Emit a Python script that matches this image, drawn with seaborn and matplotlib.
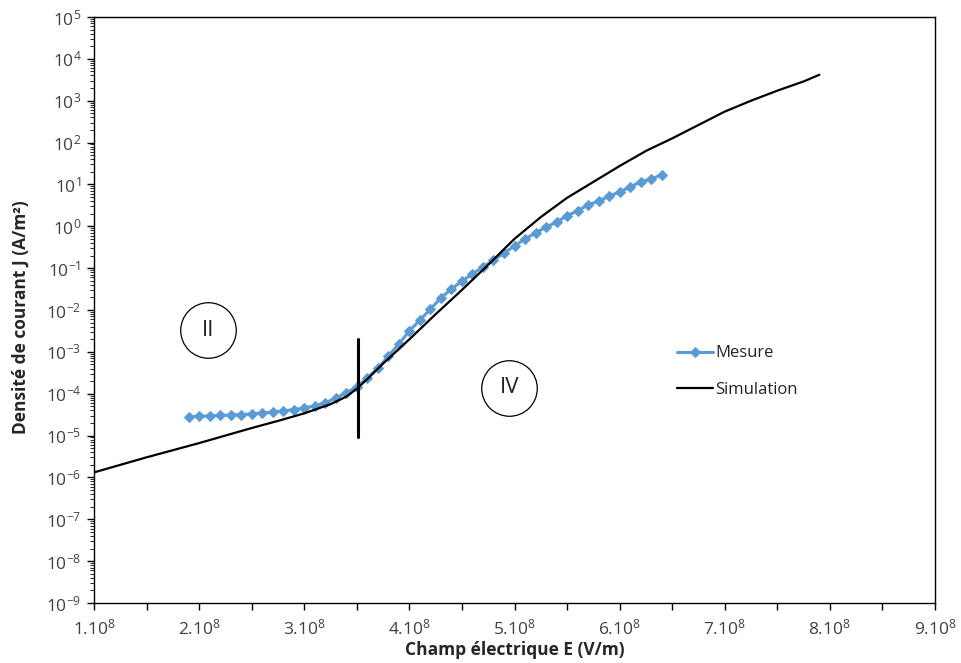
import numpy as np
import pandas as pd
import seaborn as sns
import matplotlib
matplotlib.use("Agg")
import matplotlib.pyplot as plt
from matplotlib.ticker import FixedLocator, LogLocator, NullFormatter

# --- data (E in units of 1e8 V/m, J as log10 of A/m2) ---
mesure_E = [1.9, 2.0, 2.1, 2.2, 2.3, 2.4, 2.5, 2.6, 2.7, 2.8, 2.9, 3.0, 3.1, 3.2, 3.3,
            3.4, 3.5, 3.6, 3.7, 3.8, 3.9, 4.0, 4.1, 4.2, 4.3, 4.4, 4.5, 4.6, 4.7, 4.8,
            4.9, 5.0, 5.1, 5.2, 5.3, 5.4, 5.5, 5.6, 5.7, 5.8, 5.9, 6.0, 6.1, 6.2, 6.3, 6.4]
mesure_logJ = [-4.55, -4.54, -4.53, -4.52, -4.51, -4.50, -4.48, -4.46, -4.44, -4.41,
               -4.38, -4.34, -4.29, -4.22, -4.10, -3.98, -3.83, -3.62, -3.39, -3.10,
               -2.81, -2.50, -2.24, -1.98, -1.71, -1.50, -1.31, -1.14, -0.97, -0.81,
               -0.64, -0.47, -0.30, -0.16, -0.02, 0.10, 0.25, 0.37, 0.51, 0.60,
               0.72, 0.82, 0.94, 1.06, 1.13, 1.23]

simu_E = [1.0, 1.25, 1.5, 1.75, 2.0, 2.25, 2.5, 2.75, 3.0, 3.25, 3.4, 3.5, 3.6, 3.75,
          4.0, 4.25, 4.5, 4.75, 5.0, 5.25, 5.5, 5.75, 6.0, 6.25, 6.5, 6.75, 7.0,
          7.25, 7.5, 7.75, 7.9]
simu_logJ = [-5.88, -5.70, -5.52, -5.35, -5.18, -5.00, -4.82, -4.65, -4.47, -4.25,
             -4.07, -3.88, -3.65, -3.28, -2.70, -2.10, -1.52, -0.92, -0.30, 0.22,
             0.68, 1.06, 1.44, 1.80, 2.10, 2.42, 2.74, 3.00, 3.24, 3.46, 3.62]

# region boundary marker and region labels
boundary_E = 3.51
boundary_J = (9.3e-6, 2.0e-3)
regions = ["II", "IV"]
region_E = [2.085, 4.95]
region_J = [10 ** -2.48, 10 ** -3.86]

x_ticks = [1, 2, 3, 4, 5, 6, 7, 8, 9]
x_ticklabels = [r"$\mathregular{%d.10^{8}}$" % v for v in x_ticks]
y_decades = list(range(-9, 6))

sns.set_theme(style="white")
plt.rcParams["font.family"] = ["Open Sans", "DejaVu Sans"]
plt.rcParams["mathtext.fontset"] = "custom"
plt.rcParams["mathtext.rm"] = "Open Sans"

df_m = pd.DataFrame({"E": mesure_E, "J": 10 ** np.array(mesure_logJ)})
df_s = pd.DataFrame({"E": simu_E, "J": 10 ** np.array(simu_logJ)})

fig = plt.figure(figsize=(9.62, 6.63), dpi=100)
ax = fig.add_axes([0.0977, 0.0905, 0.8743, 0.8839])

sns.lineplot(data=df_m, x="E", y="J", ax=ax, color="#5B9BD5", lw=2.2,
             marker="D", markersize=5, markeredgecolor="#5B9BD5", label="Mesure",
             sort=False, estimator=None)
sns.lineplot(data=df_s, x="E", y="J", ax=ax, color="black", lw=1.6,
             label="Simulation", sort=False, estimator=None)

ax.set_yscale("log")
ax.set_xlim(1, 9)
ax.set_ylim(1e-9, 1e5)

ax.plot([boundary_E, boundary_E], boundary_J, color="black", lw=2.2)

for lab, ex, jy in zip(regions, region_E, region_J):
    ax.plot(ex, jy, "o", ms=40, mfc="none", mec="black", mew=0.9)
    ax.text(ex, jy, lab, ha="center", va="center", fontsize=16, color="#222222")

# ticks
ax.xaxis.set_major_locator(FixedLocator(x_ticks))
ax.xaxis.set_minor_locator(FixedLocator([v + 0.5 for v in x_ticks[:-1]]))
ax.set_xticklabels(x_ticklabels)
ax.set_yticks([10.0 ** d for d in y_decades])
ax.set_yticklabels([r"$\mathregular{10^{%d}}$" % d for d in y_decades])
ax.yaxis.set_minor_locator(LogLocator(base=10, subs=np.arange(2, 10), numticks=100))
ax.yaxis.set_minor_formatter(NullFormatter())

ax.tick_params(axis="x", which="both", direction="out", bottom=True, length=5,
               width=1, color="black", labelsize=12.5, pad=6, labelcolor="#404040")
ax.tick_params(axis="y", which="major", direction="out", left=True, length=5,
               width=1, color="black", labelsize=12.5, pad=4, labelcolor="#404040")
ax.tick_params(axis="y", which="minor", direction="out", left=True, length=3,
               width=0.6, color="black")

for s in ax.spines.values():
    s.set_color("black")
    s.set_linewidth(1)

ax.set_xlabel("Champ électrique E (V/m)", fontsize=12.5, fontweight="bold", labelpad=2)
ax.set_ylabel("Densité de courant J (A/m²)", fontsize=12.5, fontweight="bold")
ax.yaxis.set_label_coords(-0.076, 0.488)

ax.legend(loc="upper left", bbox_to_anchor=(0.675, 0.465), frameon=False,
          fontsize=12, handlelength=2.2, handletextpad=0.1, labelspacing=1.25,
          labelcolor="#222222")

fig.savefig("out.png", dpi=100)
